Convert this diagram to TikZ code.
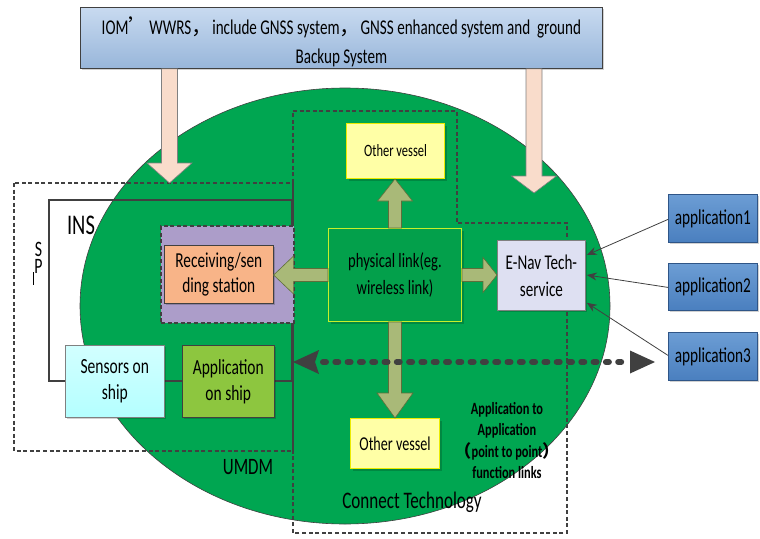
\documentclass[tikz,border=0pt]{standalone}
\usepackage{fontspec}
\setmainfont[FakeStretch=0.72]{Carlito}
\newfontfamily\cjk{Noto Sans CJK SC}
\usetikzlibrary{calc,arrows.meta,shadows}
\definecolor{ellgreen}{RGB}{0,166,81}
\definecolor{dgray}{RGB}{64,64,64}
\definecolor{pinkfill}{RGB}{249,220,203}
\definecolor{olivefill}{RGB}{169,185,120}
\definecolor{olivedraw}{RGB}{95,110,58}
\definecolor{topA}{RGB}{200,218,240}
\definecolor{topB}{RGB}{152,182,218}
\definecolor{purplefill}{RGB}{172,157,201}
\definecolor{orangefill}{RGB}{248,180,136}
\definecolor{cyanfill}{RGB}{180,255,255}
\definecolor{appgreen}{RGB}{141,198,63}
\definecolor{physfill}{RGB}{3,160,75}
\definecolor{physdraw}{RGB}{198,240,42}
\definecolor{ovfill}{RGB}{255,255,166}
\definecolor{ovdraw}{RGB}{235,235,0}
\definecolor{enavfill}{RGB}{222,224,242}
\definecolor{appA}{RGB}{108,157,212}
\definecolor{appB}{RGB}{74,127,191}
\definecolor{appdraw}{RGB}{47,85,135}
\newcommand{\vblock}[6]{\path[#1] let \p1=(#2),\p2=(#3) in
  ({\x1-#4},\y1) -- ({\x1-#4},{\y2+(#6)}) -- ({\x1-#5},{\y2+(#6)}) -- (\x1,\y2)
  -- ({\x1+#5},{\y2+(#6)}) -- ({\x1+#4},{\y2+(#6)}) -- ({\x1+#4},\y1) -- cycle;}
\newcommand{\hblock}[6]{\path[#1] let \p1=(#2),\p2=(#3) in
  (\x1,{\y1-#4}) -- ({\x2-(#6)},{\y1-#4}) -- ({\x2-(#6)},{\y1-#5}) -- (\x2,\y1)
  -- ({\x2-(#6)},{\y1+#5}) -- ({\x2-(#6)},{\y1+#4}) -- (\x1,{\y1+#4}) -- cycle;}
\begin{document}
\begin{tikzpicture}[x=1pt,y=-1pt,
  sh/.style={drop shadow={shadow xshift=2pt,shadow yshift=-2pt,fill=black,opacity=0.18}},
  boxnode/.style={anchor=north west,inner sep=0pt,align=center,text=black},
  dashbox/.style={draw=dgray,line width=1.8pt,dash pattern=on 4pt off 2.6pt},
  pinkarrow/.style={fill=pinkfill,draw=gray,line width=0.6pt},
  greenarrow/.style={fill=olivefill,draw=olivedraw,line width=0.6pt},
  appline/.style={draw=dgray,line width=0.8pt,-{Stealth[length=10pt,width=8pt]}},
  fs/.style n args={2}{font=\fontsize{#1}{#2}\selectfont}]
\useasboundingbox (0,0) rectangle (760,538);

% big ellipse
\fill[ellgreen,draw=dgray,line width=0.6pt] (345,306) ellipse [x radius=265, y radius=218];

% INS frame
\draw[dgray,line width=1.4pt] (49,200) rectangle (292,381);

% dashed regions
\draw[dashbox] (14,183) rectangle (293,451);
\draw[dashbox] (293,111) -- (457,111) -- (457,223) -- (567,223) -- (567,533) -- (293,533) -- cycle;

% top box
\node[boxnode,sh,minimum width=522pt,minimum height=61pt,top color=topA,bottom color=topB,draw=dgray,line width=0.8pt] (top) at (80,7) {};
\node[fs={21}{29},align=center,inner sep=0pt] (toptext) at ($(top.center)+(0,4)$)
  {IOM{\cjk ’}WWRS{\cjk ，}include GNSS system{\cjk ，}GNSS enhanced system and~ ground\\Backup System};

% purple & receiving
\node[boxnode,minimum width=133pt,minimum height=97pt,fill=purplefill,dashbox] (purple) at (160,225) {};
\node[boxnode,sh,minimum width=109pt,minimum height=58pt,fill=orangefill,draw=dgray,line width=0.6pt,fs={21.3}{25}] (recv) at (164,245)
  {Receiving/sen\\ding station};

% ship boxes
\node[boxnode,sh,minimum width=99pt,minimum height=72pt,top color=cyanfill!60!white,bottom color=cyanfill,draw=gray,line width=0.6pt,fs={21.6}{26}] (sensors) at (65,345)
  {Sensors on\\ship};
\node[boxnode,sh,minimum width=92pt,minimum height=72pt,fill=appgreen,draw=dgray,line width=0.6pt,fs={21.5}{26}] (appship) at (182,345)
  {Application\\on ship};

% center boxes
\node[boxnode,sh,minimum width=133pt,minimum height=93pt,fill=physfill,draw=physdraw,line width=1pt,fs={20.3}{27}] (phys) at (328,228)
  {physical link(eg.\\wireless link)};
\node[boxnode,sh,minimum width=98pt,minimum height=55pt,fill=ovfill,draw=ovdraw,line width=1pt,fs={17.3}{20}] (ov1) at (346,123) {Other vessel};
\node[boxnode,sh,minimum width=89pt,minimum height=50pt,fill=ovfill,draw=ovdraw,line width=1pt,fs={19.6}{22}] (ov2) at (350,418) {Other vessel};
\node[boxnode,sh,minimum width=88pt,minimum height=70pt,fill=enavfill,draw=gray,line width=0.8pt,fs={21}{27}] (enav) at (497,240)
  {E-Nav Tech-\\service};

% application boxes
\node[boxnode,sh,minimum width=89pt,minimum height=48pt,top color=appA,bottom color=appB,draw=appdraw,line width=0.8pt,fs={21.2}{24}] (app1) at (668,194) {application1};
\node[boxnode,sh,minimum width=89pt,minimum height=47pt,top color=appA,bottom color=appB,draw=appdraw,line width=0.8pt,fs={21.2}{24}] (app2) at (668,263) {application2};
\node[boxnode,sh,minimum width=89pt,minimum height=48pt,top color=appA,bottom color=appB,draw=appdraw,line width=0.8pt,fs={21.2}{24}] (app3) at (668,332) {application3};

% pink arrows
\coordinate (pinkLtip) at (169.5,183);
\coordinate (pinkRtip) at (534,193);
\vblock{pinkarrow}{$(top.south west)+(89.5,0)$}{pinkLtip}{8pt}{22.5pt}{20pt}
\vblock{pinkarrow}{$(top.south west)+(454,0)$}{pinkRtip}{8pt}{22.5pt}{17pt}

% green block arrows
\vblock{greenarrow}{phys.north}{phys.north |- ov1.south}{6.5pt}{17.5pt}{-22pt}
\vblock{greenarrow}{phys.south}{phys.south |- ov2.north}{6.5pt}{18pt}{25pt}
\hblock{greenarrow}{phys.east}{phys.east -| enav.west}{6.5pt}{17.5pt}{14pt}
\hblock{greenarrow}{phys.west}{phys.west -| recv.east}{6.5pt}{19pt}{-20pt}

% application connectors
\draw[appline] ($(app1.west)+(0,1)$) -- ($(enav.north east)+(1,15)$);
\draw[appline] ($(app2.west)+(0,0.5)$) -- ($(enav.north east)+(1,35)$);
\draw[appline] ($(app3.west)+(0,-1)$) -- ($(enav.south east)+(1,-8)$);

% dotted double arrow
\coordinate (dotL) at (293,362);
\coordinate (dotR) at (655,362);
\draw[dgray,line width=6pt,line cap=round,dash pattern=on 3pt off 9.3pt] ($(dotL)+(30,0)$) -- ($(dotR)+(-28,0)$);
\fill[dgray] (dotL) -- ++(26,-12) -- ++(-4,12) -- ++(4,12) -- cycle;
\fill[dgray] (dotR) -- ++(-25,-11.5) -- ++(0,23) -- cycle;

% labels
\node[fs={28.5}{30},inner sep=0pt] (ins) at (81,225) {INS};
\node[fs={22}{17},inner sep=0pt,align=center] (lblSP) at (38.5,258) {S\\P};
\draw[black,line width=1.3pt] (33.5,272) -- (33.5,285);
\node[fs={23.5}{24},inner sep=0pt] (umdm) at (248,467) {UMDM};
\node[fs={23.7}{24},inner sep=0pt] (ct) at (412,502) {Connect Technology};
\node[font=\fontsize{17.2}{21.5}\selectfont\bfseries,align=center,inner sep=0pt] (a2a) at (507,440.5)
  {Application to\\Application\\{\cjk （}point to point{\cjk ）}\\function links};
\end{tikzpicture}
\end{document}
